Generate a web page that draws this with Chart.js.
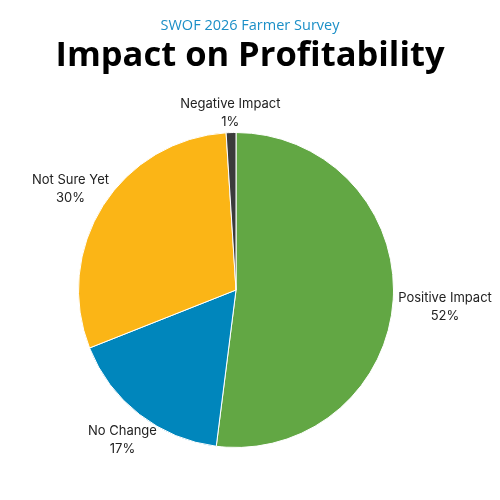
<!DOCTYPE html>
<html>
<head>
<meta charset="utf-8">
<script src="https://cdn.jsdelivr.net/npm/chart.js@4.4.1/dist/chart.umd.min.js"></script>
<style>
  html, body { margin: 0; padding: 0; background: #fff; }
  #wrap { width: 500px; height: 500px; }
</style>
</head>
<body>
<div id="wrap"><canvas id="c" width="500" height="500"></canvas></div>
<script>
const surveyName = 'SWOF 2026 Farmer Survey';
const chartTitle = 'Impact on Profitability';
const categories = ['Positive Impact', 'No Change', 'Not Sure Yet', 'Negative Impact'];
const shares = [52, 17, 30, 1];
const sliceColors = ['#62a744', '#0086bc', '#fbb516', '#3b3b3b'];

// headline text drawn above the pie
const headline = {
  id: 'headline',
  afterDraw(chart) {
    const ctx = chart.ctx;
    const cx = chart.width / 2;
    ctx.save();
    ctx.textAlign = 'center';
    ctx.textBaseline = 'alphabetic';
    ctx.fillStyle = '#1b8fc7';
    ctx.font = '14.5px "Open Sans"';
    ctx.fillText(surveyName, cx, 30);
    ctx.fillStyle = '#000';
    ctx.font = 'bold 34.5px "Open Sans"';
    ctx.fillText(chartTitle, cx, 66);
    ctx.restore();
  }
};

// outside labels: box pushed out along the slice's mid angle until it clears the rim
const outsideLabels = {
  id: 'outsideLabels',
  afterDatasetsDraw(chart) {
    const ctx = chart.ctx;
    const meta = chart.getDatasetMeta(0);
    ctx.save();
    ctx.font = '13px Inter';
    ctx.fillStyle = '#222';
    ctx.textAlign = 'center';
    ctx.textBaseline = 'middle';
    const lineH = 18;
    const gap = 5;
    const nudge = 4; // text sits a little low in its box
    meta.data.forEach((arc, i) => {
      const p = arc.getProps(['x', 'y', 'startAngle', 'endAngle', 'outerRadius'], true);
      const mid = (p.startAngle + p.endAngle) / 2;
      const dx = Math.cos(mid), dy = Math.sin(mid);
      const lines = [categories[i], shares[i] + '%'];
      const w = Math.max(...lines.map(t => ctx.measureText(t).width));
      const h = lines.length * lineH;
      const ex = Math.abs(dx) > 1e-6 ? (w / 2) / Math.abs(dx) : Infinity;
      const ey = Math.abs(dy) > 1e-6 ? (h / 2) / Math.abs(dy) : Infinity;
      const d = p.outerRadius + gap + Math.min(ex, ey);
      const bx = p.x + dx * d;
      const by = p.y + dy * d + nudge;
      lines.forEach((t, k) => {
        ctx.fillText(t, bx, by - h / 2 + lineH * (k + 0.5));
      });
    });
    ctx.restore();
  }
};

new Chart(document.getElementById('c'), {
  type: 'pie',
  data: {
    labels: categories,
    datasets: [{
      data: shares,
      backgroundColor: sliceColors,
      borderColor: '#ffffff',
      borderWidth: 1
    }]
  },
  options: {
    responsive: false,
    animation: false,
    layout: { padding: { left: 78, right: 106, top: 132, bottom: 52 } },
    plugins: {
      legend: { display: false },
      tooltip: { enabled: false }
    }
  },
  plugins: [headline, outsideLabels]
});
</script>
</body>
</html>
